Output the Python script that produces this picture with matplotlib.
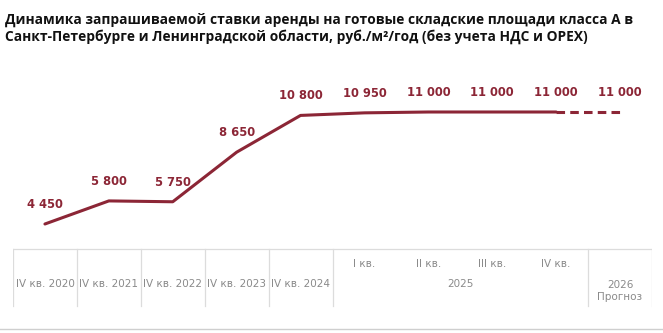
import matplotlib
matplotlib.use("Agg")
import matplotlib.pyplot as plt

# Asking rent, RUB per sq.m per year
periods = ["IV кв. 2020", "IV кв. 2021", "IV кв. 2022", "IV кв. 2023", "IV кв. 2024",
           "I кв.", "II кв.", "III кв.", "IV кв.", "2026\nПрогноз"]
values = [4450, 5800, 5750, 8650, 10800, 10950, 11000, 11000, 11000, 11000]
labels = ["4 450", "5 800", "5 750", "8 650", "10 800", "10 950", "11 000", "11 000", "11 000", "11 000"]
year_2025 = "2025"
quarter_idx = [5, 6, 7, 8]
forecast_idx = 9

title = ("Динамика запрашиваемой ставки аренды на готовые складские площади класса А в\n"
         "Санкт-Петербурге и Ленинградской области, руб./м²/год (без учета НДС и OPEX)")

W, H = 663, 333
RED = "#8c2636"
GRID = "#dcdcdc"
TXT = "#8a8a8a"

fig = plt.figure(figsize=(W / 100, H / 100), dpi=100)
fig.patch.set_facecolor("white")

def frac_x(px):
    return px / W

def frac_y(px_from_top):
    return 1 - px_from_top / H

# line chart
ax = fig.add_axes([frac_x(13), frac_y(240), frac_x(639), 180 / H])
ax.set_xlim(-0.5, len(values) - 0.5)
ax.set_ylim(3514, 14041)
ax.axis("off")

x = list(range(len(values)))
ax.plot(x[:forecast_idx], values[:forecast_idx], color=RED, lw=2.2,
        solid_capstyle="round", solid_joinstyle="round")
ax.plot(x[forecast_idx - 1:], values[forecast_idx - 1:], color=RED, lw=2.2,
        dashes=(2.8, 1.7), dash_capstyle="butt")

for xi, v, lab in zip(x, values, labels):
    ax.annotate(lab, (xi, v), xytext=(0, 9.5), textcoords="offset points",
                ha="center", va="bottom", color=RED, fontsize=8.3,
                fontweight="bold", family="DejaVu Sans")

# period table under the chart
tab = fig.add_axes([frac_x(13), 0, frac_x(639), (H - 240) / H])
tab.set_xlim(-0.5, len(values) - 0.5)
tab.set_ylim(H, 240)
tab.axis("off")

top, vbot = 249, 306
tab.plot([-0.5, len(values) - 0.5], [top, top], color=GRID, lw=0.9)
bounds = [-0.5, 0.5, 1.5, 2.5, 3.5, 4.5, 8.5, 9.5]
for b in bounds:
    tab.plot([b, b], [top, vbot], color=GRID, lw=0.9)

for i in range(5):
    tab.text(i, 284, periods[i], ha="center", va="center", color=TXT, fontsize=7.5)
for i in quarter_idx:
    tab.text(i, 264, periods[i], ha="center", va="center", color=TXT, fontsize=7.5)
tab.text(sum(quarter_idx) / len(quarter_idx), 284, year_2025, ha="center", va="center",
         color=TXT, fontsize=7.5)
tab.text(forecast_idx, 291, periods[forecast_idx], ha="center", va="center",
         color=TXT, fontsize=7.5, linespacing=1.3)

# full-width bottom rule
fig.add_artist(plt.Line2D([0, 1], [frac_y(329), frac_y(329)], color="#cfcfcf", lw=1.0,
                          transform=fig.transFigure))

fig.text(frac_x(5), frac_y(13), title, ha="left", va="top", fontsize=9.95,
         fontweight="bold", family="Open Sans", color="#111111", linespacing=1.2)

fig.savefig("out.png", dpi=100, facecolor="white")
